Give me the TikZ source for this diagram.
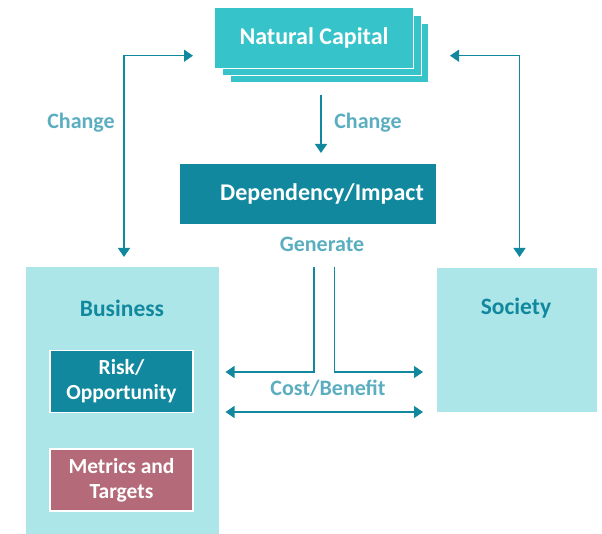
\documentclass[tikz,border=0pt]{standalone}
\usepackage{fontspec}
\setmainfont{Carlito}
\usetikzlibrary{arrows.meta,positioning}
\definecolor{ncfill}{RGB}{54,195,201}
\definecolor{dark}{RGB}{17,136,158}
\definecolor{light}{RGB}{173,230,232}
\definecolor{lbl}{RGB}{91,174,192}
\definecolor{rose}{RGB}{180,106,120}
\tikzset{
  conn/.style={draw=dark,line width=1.3pt},
  tip/.style={-{Triangle[length=9pt,width=12pt]}},
  tips/.style={{Triangle[length=9pt,width=12pt]}-{Triangle[length=9pt,width=12pt]}},
  lab/.style={text=lbl,font=\fontsize{22}{26}\selectfont\bfseries},
  layer/.style={fill=ncfill,draw=white,line width=1.2pt},
  bigbox/.style={fill=light,draw=white,line width=1pt},
  inner/.style={draw=white,line width=1.2pt,text=white,align=center,font=\fontsize{21.5}{26}\selectfont\bfseries},
}
\begin{document}
\begin{tikzpicture}[x=1pt,y=-1pt]
\useasboundingbox (0,0) rectangle (602,534);
% Natural capital layers
\draw[layer] (230,23) rectangle (429,83);
\draw[layer] (222.5,15.5) rectangle (421.5,75.5);
\node[layer,minimum width=199pt,minimum height=61pt,inner sep=0pt,text=white,font=\fontsize{24}{28}\selectfont\bfseries] (nc) at (314,38) {Natural Capital};
% Dependency/Impact
\node[fill=dark,minimum width=256pt,minimum height=60pt,inner sep=0pt] (dep) at (308,194) {};
\node[text=white,font=\fontsize{24}{28}\selectfont\bfseries] (deptxt) at (322,194) {Dependency/Impact};
% Business and Society
\node[bigbox,minimum width=194pt,minimum height=267pt,inner sep=0pt] (bus) at (122,400.5) {};
\node[text=dark,font=\fontsize{23.5}{28}\selectfont\bfseries] (bustxt) at (122,308) {Business};
\node[bigbox,minimum width=161pt,minimum height=144pt,inner sep=0pt] (soc) at (516.5,340) {};
\node[text=dark,font=\fontsize{23.5}{28}\selectfont\bfseries] (soctxt) at (516,308) {Society};
\node[inner,fill=dark,minimum width=143pt,minimum height=62pt,inner sep=0pt] (risk) at (121.5,381.5) {Risk/\\[-1pt]Opportunity};
\node[inner,fill=rose,minimum width=143pt,minimum height=62pt,inner sep=0pt] (met) at (121.5,480) {Metrics and\\[-1pt]Targets};
% labels
\node[lab] (ch1) at (81,123) {Change};
\node[lab] (ch2) at (368,123) {Change};
\node[lab] (gen) at (322,244) {Generate};
\node[lab] (cb) at (328,388) {Cost/Benefit};
% connector points
\coordinate (lt) at (193,55.7);
\coordinate (lb) at (124,257);
\coordinate (rt) at (450,55.7);
\coordinate (rb) at (519.5,257);
\coordinate (m1) at (321,95);
\coordinate (m2) at (321,153);
\coordinate (g1) at (314,267);
\coordinate (g2) at (334.5,267);
\coordinate (aL) at (225.5,372);
\coordinate (aR) at (423,372);
\coordinate (bL) at (225.5,412);
\coordinate (bR) at (423,412);
% connectors
\draw[conn,tips] (lt) -| (lb);
\draw[conn,tips] (rt) -| (rb);
\draw[conn,tip] (m1) -- (m2);
\draw[conn,tip] (g1) |- (aL);
\draw[conn,tip] (g2) |- (aR);
\draw[conn,tips] (bL) -- (bR);
\end{tikzpicture}
\end{document}
